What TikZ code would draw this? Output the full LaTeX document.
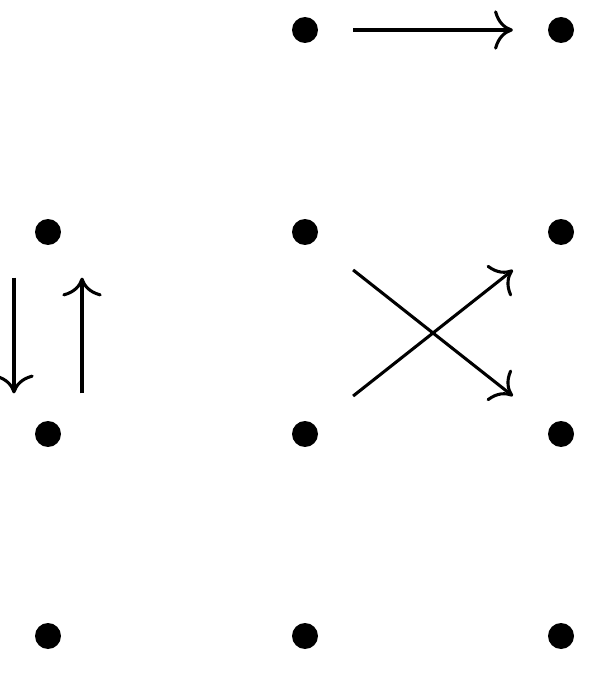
\documentclass[tikz,border=0pt]{standalone}
\usetikzlibrary{arrows.meta}

\begin{document}
\begin{tikzpicture}[x=0.0063cm, y=-0.0063cm,
  dot/.style={rectangle, inner sep=0pt, minimum width=16.85pt, minimum height=15.06pt,
    path picture={\fill (path picture bounding box.center) circle (2.33pt);}},
  cdarrow/.style={line width=0.55pt, -{Computer Modern Rightarrow[scale=1.2]}}]

% Frame
\useasboundingbox (0,0) rectangle (606,674);

% Row 0 (no left entry)
\node[dot] (n01) at (305,30) {};
\node[dot] (n02) at (561,30) {};

% Row 1
\node[dot] (n10) at (48,232) {};
\node[dot] (n11) at (305,232) {};
\node[dot] (n12) at (561,232) {};

% Row 2
\node[dot] (n20) at (48,434) {};
\node[dot] (n21) at (305,434) {};
\node[dot] (n22) at (561,434) {};

% Row 3
\node[dot] (n30) at (48,636) {};
\node[dot] (n31) at (305,636) {};
\node[dot] (n32) at (561,636) {};

% Arrows
\draw[cdarrow] (n01) -- (n02);
\draw[cdarrow] ([shift={(-6.1pt,-0.45pt)}]n10.south) -- ([shift={(-6.1pt,-0.45pt)}]n20.north);
\draw[cdarrow] ([shift={(6.1pt,-0.45pt)}]n20.north) -- ([shift={(6.1pt,-0.45pt)}]n10.south);
\draw[cdarrow] (n11) -- (n22);
\draw[cdarrow] (n21) -- (n12);

\end{tikzpicture}
\end{document}
